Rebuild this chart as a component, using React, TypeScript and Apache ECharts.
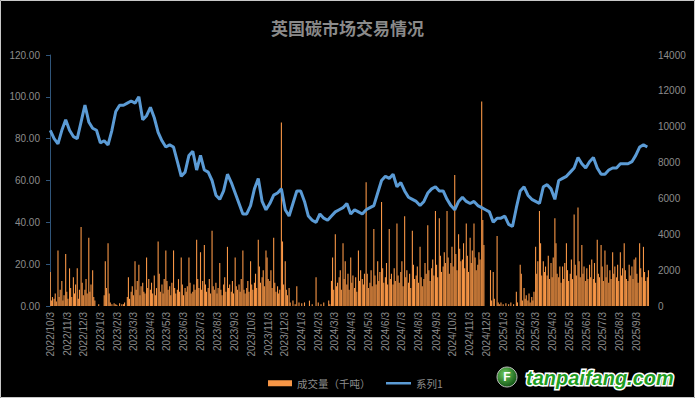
import React, { useEffect, useRef } from "react";
import * as echarts from "echarts";

const TITLE = "英国碳市场交易情况";
const START = { y: 2022, m: 10, d: 3 };
const END = { y: 2025, m: 9, d: 30 };
const BAR_NAME = "成交量（千吨）";
const LINE_NAME = "系列1";

// weekly closing price (line, left axis), one value per week starting 2022/10/3
const priceWeekly = [
  84, 80, 77.5, 84, 89, 84, 81, 80, 88, 96, 88, 85, 84, 78, 79, 77, 84, 93, 96, 96,
  97, 98, 97, 100, 89, 91, 95, 90, 83, 79, 76, 77, 76, 69, 62, 64, 72, 74, 65, 72,
  65, 64, 60, 53, 51, 55, 63, 59, 54, 49, 44, 44, 48, 56, 61, 50, 46, 49, 53, 54,
  56, 46, 43, 49, 55, 55, 50, 43, 41, 40, 44, 42, 41, 43, 45, 46, 47, 49, 44, 46,
  45, 44, 46, 47, 48, 54, 60, 62, 61, 63, 57, 59, 55, 52, 51, 50, 48, 50, 54, 56,
  57, 55, 55, 51, 48, 46, 50, 52, 50, 49, 50, 48, 47, 46, 45, 40, 42, 42, 43, 39,
  38, 47, 55, 57, 53, 51, 50, 49, 57, 58, 56, 51, 60, 61, 62, 64, 66, 71, 68, 66,
  69, 71, 66, 63, 63, 65, 66, 66, 68, 68, 68, 69, 72, 76, 77, 76,
];

// volume (thousand t, right axis): three sessions per week (Mon, Wed, Fri)
const volumeWeekly = [
  [1900, 300, 500], [400, 700, 250], [3100, 500, 900], [1400, 300, 600], [2900, 800, 400],
  [2100, 1000, 500], [1600, 700, 1200], [2100, 400, 900], [4400, 1300, 600], [900, 1500, 700],
  [3800, 800, 1200], [2000, 500, 300], [0, 0, 100], [0, 0, 0], [600, 2500, 1000],
  [3500, 700, 200], [100, 0, 150], [100, 50, 0], [150, 0, 100], [100, 200, 0],
  [500, 1600, 400], [800, 1100, 600], [2500, 900, 1400], [2300, 600, 1100], [1300, 800, 700],
  [2700, 1000, 1500], [900, 1300, 700], [1700, 600, 1000], [3600, 1800, 800], [1200, 700, 1500],
  [3100, 1400, 900], [1100, 600, 1300], [3100, 1000, 700], [900, 1500, 800], [2700, 1200, 600],
  [1000, 800, 1100], [2700, 1300, 700], [800, 1200, 900], [3700, 1500, 1000], [3000, 900, 1400],
  [3400, 1200, 800], [1000, 1500, 700], [4200, 1100, 900], [1300, 700, 1000], [2400, 900, 600],
  [1200, 1600, 800], [3300, 1000, 1200], [800, 1400, 700], [2700, 1100, 900], [1200, 800, 1500],
  [3100, 900, 700], [1000, 1400, 800], [2500, 1200, 900], [1300, 1800, 1000], [3700, 2200, 1300],
  [1600, 2000, 1100], [3100, 2700, 1500], [1400, 2000, 1000], [3800, 1300, 800], [1100, 700, 900],
  [10240, 3600, 1200], [2500, 900, 600], [1000, 200, 0], [300, 0, 100], [1100, 0, 200],
  [0, 150, 0], [200, 0, 0], [0, 300, 0], [100, 0, 0], [1600, 0, 200],
  [0, 100, 0], [200, 0, 0], [0, 300, 100], [1400, 2700, 900], [4000, 1100, 1300],
  [1600, 2000, 900], [3500, 1500, 2500], [1200, 1800, 900], [2700, 1300, 1700], [1000, 1600, 800],
  [3100, 1400, 2000], [1500, 1200, 1800], [6900, 1800, 1000], [1300, 2000, 1100], [4300, 1700, 1200],
  [2500, 1400, 1900], [5800, 2100, 1300], [1600, 2400, 1200], [4300, 1500, 1800], [1200, 2100, 1400],
  [4600, 1700, 1300], [1900, 2500, 1100], [5000, 1600, 2000], [1300, 1800, 1000], [4200, 2300, 1500],
  [1700, 2200, 1300], [3300, 1600, 1100], [1500, 2400, 1800], [4500, 2000, 1400], [2100, 2600, 1700],
  [5300, 2300, 1600], [4900, 2800, 1900], [2200, 3000, 2400], [5300, 2700, 1800], [2400, 3300, 2200],
  [7300, 2900, 2000], [4000, 3200, 2500], [2600, 3500, 2100], [4600, 2800, 1900], [3800, 2400, 3100],
  [4600, 2700, 2000], [2300, 3000, 2600], [11400, 4800, 3400], [0, 0, 0], [0, 2000, 300],
  [1900, 400, 0], [3900, 200, 100], [200, 0, 100], [0, 150, 0], [100, 0, 200],
  [0, 100, 0], [800, 200, 0], [2300, 1800, 300], [1000, 400, 600], [300, 700, 200],
  [500, 300, 800], [3300, 1800, 2500], [5300, 3500, 1700], [2500, 1900, 2200], [1700, 2800, 1500],
  [2400, 1600, 2700], [4900, 3500, 1800], [1600, 2200, 1300], [2200, 1500, 2400], [3500, 2000, 1400],
  [1800, 2600, 1500], [5100, 2300, 1700], [5500, 2500, 1600], [3400, 1800, 2200], [1400, 2100, 1500],
  [2300, 1600, 2600], [1500, 2400, 1300], [3700, 1800, 1600], [3400, 2200, 1400], [3100, 1600, 2300],
  [1300, 2000, 1500], [3000, 1800, 2200], [1600, 2300, 1400], [3000, 1700, 2100], [3500, 2000, 1500],
  [1400, 2300, 1700], [2200, 1500, 2600], [2700, 1800, 1300], [3500, 2100, 1600], [3300, 1900, 1400],
  [1600, 2000],
];

const SESSION_OFFSETS = [0, 2, 4];

function buildDays(): string[] {
  const out: string[] = [];
  const d = new Date(START.y, START.m - 1, START.d);
  const end = new Date(END.y, END.m - 1, END.d);
  while (d <= end) {
    out.push(`${d.getFullYear()}/${d.getMonth() + 1}/${d.getDate()}`);
    d.setDate(d.getDate() + 1);
  }
  return out;
}

export default function App() {
  const ref = useRef<HTMLDivElement>(null);
  useEffect(() => {
    if (!ref.current) return;
    const chart = echarts.init(ref.current, undefined, { renderer: "svg" });
    const days = buildDays();
    const lineData = priceWeekly.map((v, k) => [k * 7, v]);
    const barData: number[][] = [];
    volumeWeekly.forEach((wk, w) => {
      wk.forEach((v, j) => barData.push([w * 7 + SESSION_OFFSETS[j], v]));
    });
    const gray = "#8c8c8c";
    const font = "'Liberation Sans', Arial, sans-serif";
    const cjk = "'Noto Sans CJK SC', sans-serif";
    chart.setOption({
      animation: false,
      backgroundColor: "#000000",
      title: {
        text: TITLE,
        left: "center",
        top: 14,
        textStyle: { color: "#8a8a8a", fontSize: 17, fontWeight: "bold", fontFamily: cjk },
      },
      grid: { left: 50, right: 43, top: 55, bottom: 92, containLabel: false },
      legend: [
        {
          top: 373,
          left: 263,
          itemWidth: 24,
          itemHeight: 6,
          textStyle: { color: gray, fontSize: 10.5, fontFamily: cjk },
          data: [{ name: BAR_NAME, icon: "rect" }],
        },
        {
          top: 373,
          left: 381,
          itemWidth: 25,
          itemHeight: 2.5,
          textStyle: { color: gray, fontSize: 10.5, fontFamily: cjk },
          data: [{ name: LINE_NAME, icon: "rect" }],
        },
      ],
      xAxis: {
        type: "category",
        data: days,
        boundaryGap: true,
        axisLine: { show: false },
        axisTick: { show: false },
        axisLabel: {
          rotate: 90,
          color: gray,
          fontSize: 10,
          fontFamily: font,
          margin: 6,
          interval: (_i: number, v: string) => v.endsWith("/3"),
        },
        splitLine: { show: false },
      },
      yAxis: [
        {
          type: "value",
          min: 0,
          max: 120,
          interval: 20,
          axisLine: { show: true, lineStyle: { color: "#30557a", width: 1 } },
          axisTick: { show: true, length: 4, lineStyle: { color: "#30557a" } },
          axisLabel: {
            color: gray,
            fontSize: 10,
            fontFamily: font,
            margin: 10,
            formatter: (v: number) => v.toFixed(2),
          },
          splitLine: { show: false },
        },
        {
          type: "value",
          min: 0,
          max: 14000,
          interval: 2000,
          axisLine: { show: false },
          axisTick: { show: false },
          axisLabel: {
            color: gray,
            fontSize: 10,
            fontFamily: font,
            margin: 6,
            formatter: (v: number) => String(v),
          },
          splitLine: { show: false },
        },
      ],
      series: [
        {
          name: BAR_NAME,
          type: "bar",
          yAxisIndex: 1,
          data: barData,
          barWidth: 1.1,
          itemStyle: { color: "#f79646" },
          z: 2,
        },
        {
          name: LINE_NAME,
          type: "line",
          yAxisIndex: 0,
          data: lineData,
          symbol: "none",
          lineStyle: { color: "#5b9bd5", width: 3 },
          itemStyle: { color: "#5b9bd5" },
          z: 3,
        },
      ],
      graphic: [
        {
          type: "rect",
          shape: { x: 0.5, y: 0.5, width: 694, height: 397 },
          style: { fill: "none", stroke: "#c8c8c8", lineWidth: 1 },
          silent: true,
        },
        {
          type: "circle",
          shape: { cx: 507, cy: 377, r: 10 },
          style: {
            fill: new echarts.graphic.RadialGradient(0.4, 0.35, 0.7, [
              { offset: 0, color: "#6fcf5f" },
              { offset: 1, color: "#0c4d10" },
            ]),
            stroke: "#bbbbbb",
            lineWidth: 1,
          },
        },
        {
          type: "text",
          x: 507,
          y: 377,
          style: {
            text: "F",
            fill: "#ffffff",
            fontSize: 12,
            fontWeight: "bold",
            fontFamily: font,
            align: "center",
            verticalAlign: "middle",
          },
        },
        {
          type: "text",
          x: 526,
          y: 378,
          style: {
            text: "tanpaifang.com",
            fill: "#1f9d1f",
            stroke: "#ffffff",
            lineWidth: 3,
            fontSize: 20,
            fontWeight: "bold",
            fontStyle: "italic",
            fontFamily: font,
            verticalAlign: "middle",
          },
        },
      ],
    });
    return () => chart.dispose();
  }, []);
  return (
    <div
      ref={ref}
      style={{ position: "fixed", left: 0, top: 0, width: 695, height: 398 }}
    />
  );
}
